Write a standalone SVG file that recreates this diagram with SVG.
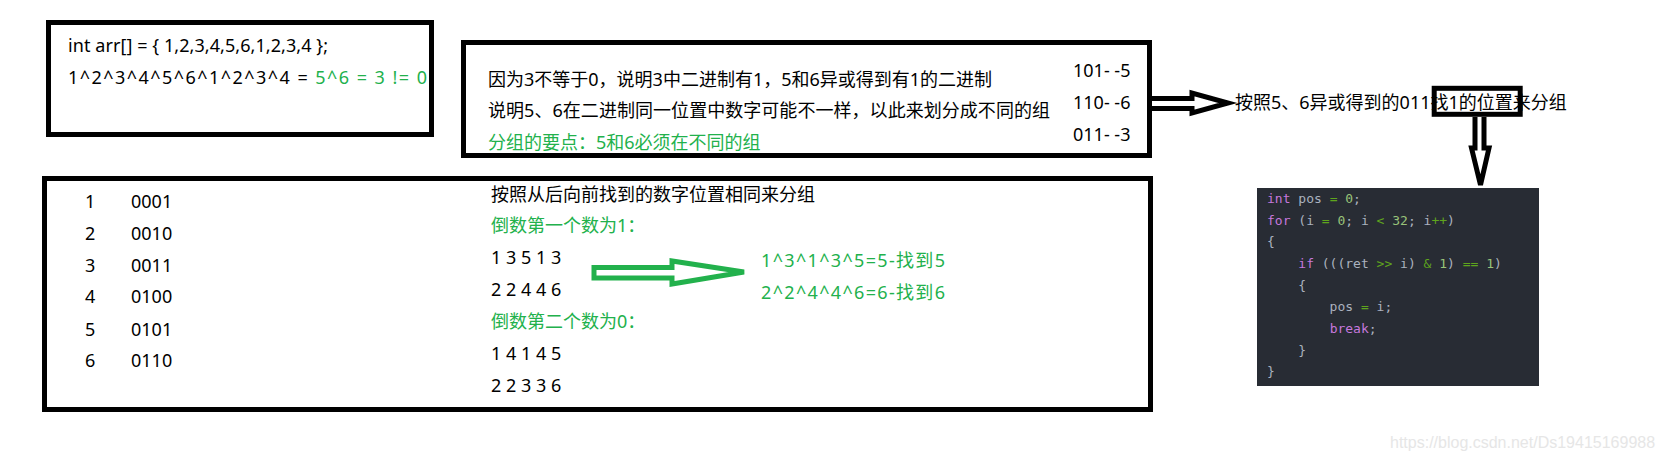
<svg xmlns="http://www.w3.org/2000/svg" width="1663" height="462" viewBox="0 0 1663 462">
<style>
.t{font-family:"Noto Sans","Noto Sans CJK SC",sans-serif;font-size:18px;fill:#000}
.g{fill:#22b14c}
.box{fill:none;stroke:#000;stroke-width:5}
.arr{fill:#fff;stroke:#000;stroke-width:5;stroke-linejoin:miter}
.garr{fill:#fff;stroke:#22b14c;stroke-width:5;stroke-linejoin:miter}
.code{font-family:"DejaVu Sans Mono","Liberation Mono",monospace;font-size:13px;fill:#abb2bf}
.k{fill:#c678dd}.n{fill:#98c379}.o{fill:#5fa51d}
.wm{font-family:"Liberation Sans",Arial,sans-serif;font-size:16px;fill:#e6e6e6}
</style>
<rect width="1663" height="462" fill="#fff"/>

<g id="box1">
<rect class="box" x="48.5" y="22.5" width="383" height="112"/>
<text class="t" x="68" y="52" font-size="19" textLength="260" lengthAdjust="spacing">int arr[] = { 1,2,3,4,5,6,1,2,3,4 };</text>
<text class="t" x="68" y="84" font-size="20.5" textLength="359" lengthAdjust="spacing">1^2^3^4^5^6^1^2^3^4 = <tspan class="g">5^6 = 3 != 0</tspan></text>
</g>

<g id="box2">
<rect class="box" x="463.5" y="42.5" width="686" height="113"/>
<text class="t" x="488" y="86">因为3不等于0，说明3中二进制有1，5和6异或得到有1的二进制</text>
<text class="t" x="488" y="117" textLength="562" lengthAdjust="spacing">说明5、6在二进制同一位置中数字可能不一样，以此来划分成不同的组</text>
<text class="t g" x="488" y="149">分组的要点：5和6必须在不同的组</text>
<text class="t" x="1073" y="77" font-size="20">101- -5</text>
<text class="t" x="1073" y="109" font-size="20">110- -6</text>
<text class="t" x="1073" y="141" font-size="20">011- -3</text>
</g>

<g id="group-note">
<text class="t" x="1235" y="109">按照5、6异或得到的011找1的位置来分组</text>
<rect class="box" x="1434.2" y="88.3" width="86" height="26"/>
</g>

<g id="box3">
<rect class="box" x="44.5" y="178.5" width="1106" height="231"/>
<g class="t">
<text class="t" x="85" y="208">1</text><text class="t" x="131" y="208">0001</text>
<text class="t" x="85" y="240">2</text><text class="t" x="131" y="240">0010</text>
<text class="t" x="85" y="272">3</text><text class="t" x="131" y="272">0011</text>
<text class="t" x="85" y="303">4</text><text class="t" x="131" y="303">0100</text>
<text class="t" x="85" y="336">5</text><text class="t" x="131" y="336">0101</text>
<text class="t" x="85" y="367">6</text><text class="t" x="131" y="367">0110</text>
</g>
<text class="t" x="491" y="201">按照从后向前找到的数字位置相同来分组</text>
<text class="t g" x="491" y="232">倒数第一个数为1：</text>
<text class="t" x="491" y="264" font-size="19">1 3 5 1 3</text>
<text class="t" x="491" y="296" font-size="19">2 2 4 4 6</text>
<text class="t g" x="491" y="328">倒数第二个数为0：</text>
<text class="t" x="491" y="360" font-size="19">1 4 1 4 5</text>
<text class="t" x="491" y="392" font-size="19">2 2 3 3 6</text>
<text class="t g" x="761" y="267" font-size="20" textLength="184" lengthAdjust="spacing">1^3^1^3^5=5-找到5</text>
<text class="t g" x="761" y="299" font-size="20" textLength="184" lengthAdjust="spacing">2^2^4^4^6=6-找到6</text>
</g>

<g id="code">
<rect x="1257" y="188" width="282" height="198" fill="#282c34"/>
<text class="code" xml:space="preserve" x="1267" y="203"><tspan class="k">int</tspan> pos <tspan class="o">=</tspan> <tspan class="n">0</tspan>;</text>
<text class="code" xml:space="preserve" x="1267" y="224.7"><tspan class="k">for</tspan> (i <tspan class="o">=</tspan> <tspan class="n">0</tspan>; i <tspan class="o">&lt;</tspan> <tspan class="n">32</tspan>; i<tspan class="o">++</tspan>)</text>
<text class="code" xml:space="preserve" x="1267" y="246.3">{</text>
<text class="code" xml:space="preserve" x="1267" y="268">    <tspan class="k">if</tspan> (((ret <tspan class="o">&gt;&gt;</tspan> i) <tspan class="o">&amp;</tspan> <tspan class="n">1</tspan>) <tspan class="o">==</tspan> <tspan class="n">1</tspan>)</text>
<text class="code" xml:space="preserve" x="1267" y="289.7">    {</text>
<text class="code" xml:space="preserve" x="1267" y="311.3">        pos <tspan class="o">=</tspan> i;</text>
<text class="code" xml:space="preserve" x="1267" y="333">        <tspan class="k">break</tspan>;</text>
<text class="code" xml:space="preserve" x="1267" y="354.7">    }</text>
<text class="code" xml:space="preserve" x="1267" y="376.3">}</text>
</g>

<g id="connectors">
<path class="arr" d="M1152,98.5 H1192 V93 L1228,103 L1192,113 V108.5 H1152"/>
<path class="arr" stroke-width="4" d="M1475,117 V148 H1471.5 L1480.5,185 L1489,148 H1484 V117"/>
<path class="garr" d="M594,267.5 H672 V261 L744,272 L672,284 V278 H594 Z"/>
</g>

<text class="wm" x="1390" y="448">https://blog.csdn.net/Ds19415169988</text>
</svg>
